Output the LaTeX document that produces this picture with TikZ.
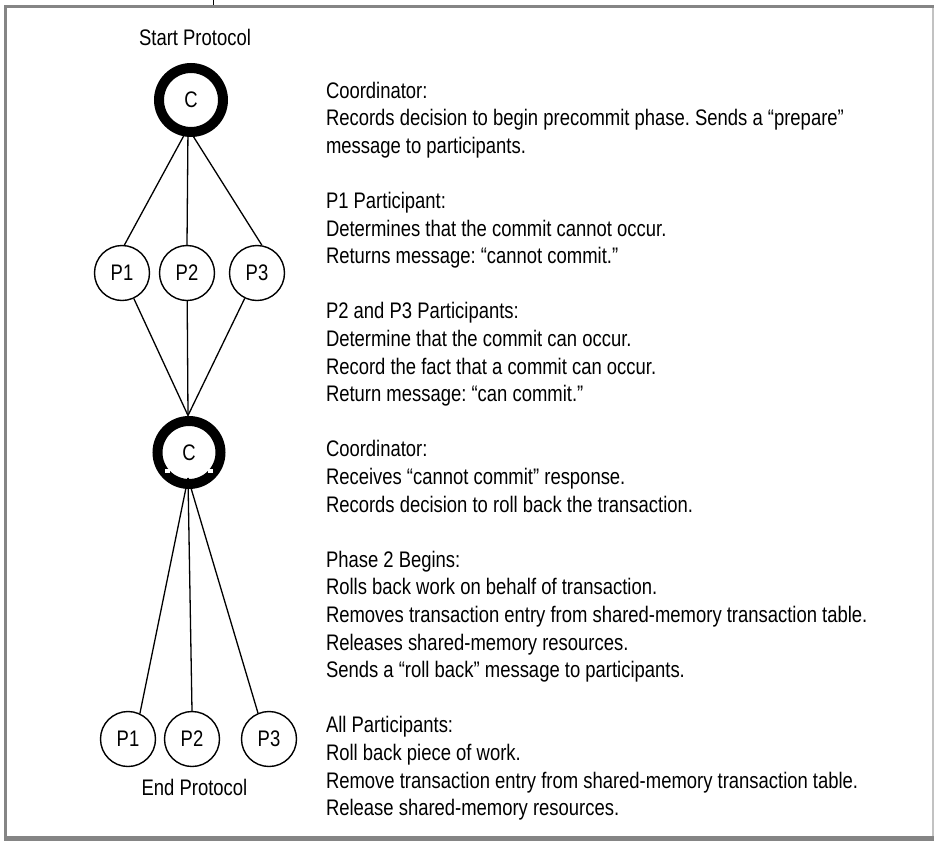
\documentclass[tikz,border=0pt]{standalone}
\usepackage{fontspec}
\setmainfont{Liberation Sans}[FakeStretch=0.82]
\frenchspacing
\definecolor{framegray}{HTML}{858585}
\definecolor{edgegray}{HTML}{C2C2C2}
\begin{document}
\begin{tikzpicture}[x=1pt,y=-1pt,
  txt/.style={font=\fontsize{22.5}{27.6}\selectfont, inner sep=0pt, outer sep=0pt},
  coordnode/.style={circle, draw=black, line width=10pt, minimum size=64pt, inner sep=0pt,
    font=\fontsize{22.5}{27.6}\selectfont},
  partnode/.style={circle, draw=black, line width=1.4pt, minimum size=55pt, inner sep=0pt,
    font=\fontsize{22.5}{27.6}\selectfont},
  link/.style={draw=black, line width=1.3pt}
]
\useasboundingbox (0,0) rectangle (934,841);

% page frame
\fill[framegray] (4,5) rectangle (934,8);
\fill[framegray] (4,5) rectangle (7,841);
\fill[framegray] (4,836) rectangle (934,841);
\fill[edgegray] (932,8) rectangle (933.5,836);
\draw[line width=1pt] (213,0) -- (213,5);

% protocol labels
\node[txt, anchor=base] (start) at (195,45) {Start Protocol};
\node[txt, anchor=base] (end) at (194.5,795) {End Protocol};

% coordinator and participants
\node[coordnode] (c1) at (191,100) {C};
\node[partnode] (p1) at (122,273) {P1};
\node[partnode] (p2) at (187,273) {P2};
\node[partnode] (p3) at (257,273) {P3};
\node[coordnode, minimum size=63pt] (c2) at (189,452.5) {C};
\node[partnode] (q1) at (128,739) {P1};
\node[partnode] (q2) at (192,739) {P2};
\node[partnode] (q3) at (269,739) {P3};

% small gaps on the inner edge of the second ring
\fill[white] (165,469) rectangle (170,473);
\fill[white] (208,469) rectangle (213,473);

\coordinate (hubA) at (188,128);
\coordinate (hubB) at (188,415.5);
\coordinate (hubC) at (188,478);

\draw[link] (hubA) -- (p1.85);
\draw[link] (hubA) -- (p2.north);
\draw[link] (hubA) -- (p3.80);
\draw[link] (p1) -- (hubB);
\draw[link] (p2) -- (hubB);
\draw[link] (p3) -- (hubB);
\draw[link] (hubC) -- (q1.65);
\draw[link] (hubC) -- (q2.north);
\draw[link] (hubC) -- (q3.113);

% step descriptions
\node[txt, anchor=base west] (tA) at (326,98) {\parbox[t]{600pt}{\raggedright
Coordinator:\\
Records decision to begin precommit phase. Sends a “prepare”\\
message to participants.}};
\node[txt, anchor=base west] (tB) at (326,208.4) {\parbox[t]{600pt}{\raggedright
P1 Participant:\\
Determines that the commit cannot occur.\\
Returns message: “cannot commit.”}};
\node[txt, anchor=base west] (tC) at (326,318.8) {\parbox[t]{600pt}{\raggedright
P2 and P3 Participants:\\
Determine that the commit can occur.\\
Record the fact that a commit can occur.\\
Return message: “can commit.”}};
\node[txt, anchor=base west] (tD) at (326,456.8) {\parbox[t]{600pt}{\raggedright
Coordinator:\\
Receives “cannot commit” response.\\
Records decision to roll back the transaction.}};
\node[txt, anchor=base west] (tE) at (326,567.2) {\parbox[t]{600pt}{\raggedright
Phase 2 Begins:\\
Rolls back work on behalf of transaction.\\
Removes transaction entry from shared-memory transaction table.\\
Releases shared-memory resources.\\
Sends a “roll back” message to participants.}};
\node[txt, anchor=base west] (tF) at (326,732.8) {\parbox[t]{600pt}{\raggedright
All Participants:\\
Roll back piece of work.\\
Remove transaction entry from shared-memory transaction table.\\
Release shared-memory resources.}};
\end{tikzpicture}
\end{document}
